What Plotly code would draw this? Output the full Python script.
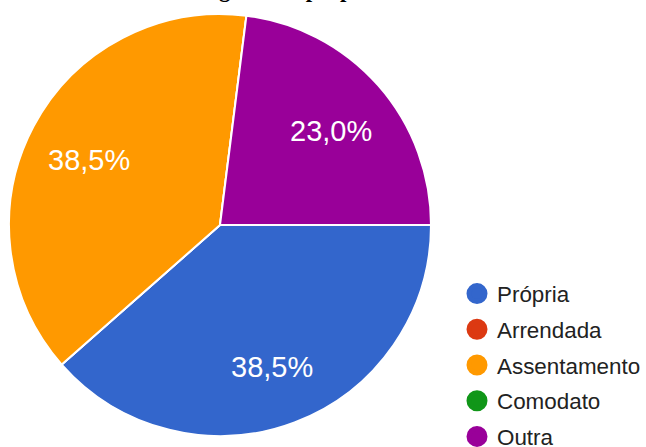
import math
import plotly.graph_objects as go

labels = ["Própria", "Arrendada", "Assentamento", "Comodato", "Outra"]
values = [38.5, 0, 38.5, 0, 23.0]
colors = ["#3366cc", "#dc3912", "#ff9900", "#109618", "#990099"]
title_text = "Categoria da propriedade"

W, H = 646, 470  # figure extends below the 447px view, as in the reference (legend cut at bottom)
PIE_X = [9, 431]   # pie domain in pixels
PIE_Y = [14, 436]
ROTATION = 90
LABEL_R = 0.70

fig = go.Figure()
fig.add_trace(go.Pie(
    labels=labels, values=values, sort=False, direction="clockwise", rotation=ROTATION,
    marker=dict(colors=colors, line=dict(color="white", width=2)),
    textinfo="none",
    showlegend=False, hoverinfo="label+percent",
    domain=dict(x=[PIE_X[0] / W, PIE_X[1] / W], y=[(H - PIE_Y[1]) / H, (H - PIE_Y[0]) / H]),
))
for i, (lab, col) in enumerate(zip(labels, colors)):
    fig.add_trace(go.Scatter(
        x=[None], y=[None], mode="markers", name=lab,
        marker=dict(color=col, size=16, symbol="circle", line=dict(color=col, width=5)),
        legendgroup=f"g{i}", showlegend=True,
    ))

# percentage labels placed along each slice's mid-angle
cx = (PIE_X[0] + PIE_X[1]) / 2
cy = (PIE_Y[0] + PIE_Y[1]) / 2
r = (PIE_X[1] - PIE_X[0]) / 2
total = sum(values)
acc = 0.0
for v in values:
    if v > 0:
        mid = ROTATION + (acc + v / 2) / total * 360
        th = math.radians(mid)
        px = cx + LABEL_R * r * math.sin(th)
        py = cy - LABEL_R * r * math.cos(th)
        txt = f"{v / total * 100:.1f}".replace(".", ",") + "%"
        fig.add_annotation(text=txt, xref="paper", yref="paper", x=px / W, y=1 - py / H,
                           showarrow=False, xanchor="center", yanchor="middle", yshift=-4,
                           font=dict(color="white", size=29, family="Liberation Sans, Arial, sans-serif"))
    acc += v

fig.add_annotation(text=f"<b>{title_text}</b>", xref="paper", yref="paper",
                   x=300 / W, y=1 - 4 / H, xanchor="center", yanchor="bottom",
                   showarrow=False, font=dict(family="Liberation Serif, Times New Roman, serif", size=23, color="black"))

fig.update_layout(
    width=W, height=H, margin=dict(l=0, r=0, t=0, b=0, autoexpand=False),
    paper_bgcolor="white", plot_bgcolor="white",
    separators=",.",
    xaxis=dict(visible=False), yaxis=dict(visible=False),
    legend=dict(x=457 / W, y=1 - 272.5 / H, xanchor="left", yanchor="top",
                font=dict(size=22.4, color="#222222", family="Liberation Sans, Arial, sans-serif"),
                tracegroupgap=3.6, itemsizing="trace", bgcolor="rgba(0,0,0,0)"),
)
fig.write_html("out.html", config={"displayModeBar": False},
               post_script="document.body.style.margin='0';document.body.style.overflow='hidden';")
